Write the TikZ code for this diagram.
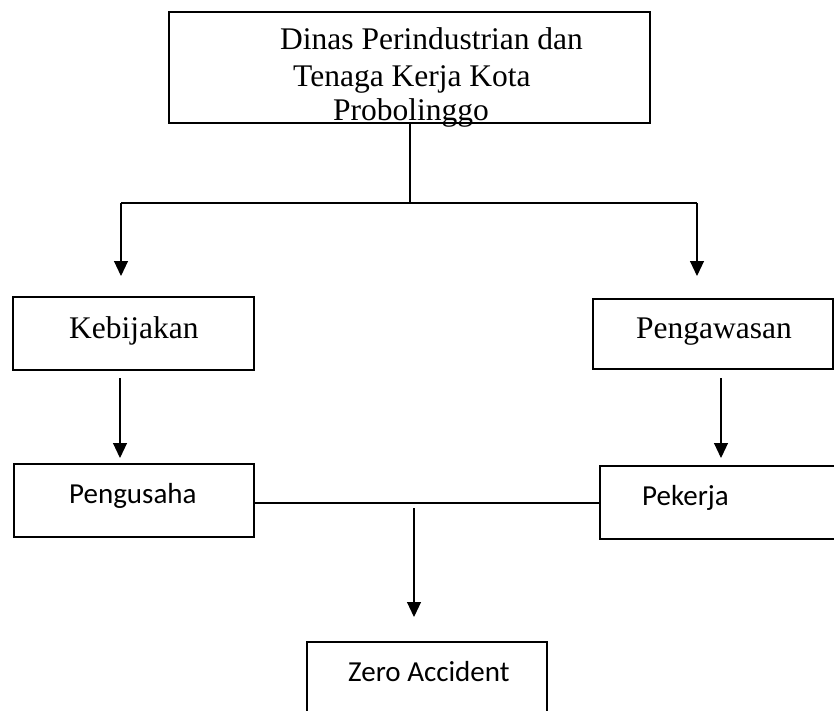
\documentclass[tikz,border=0pt]{standalone}
\usepackage{fontspec}
\setmainfont{Liberation Serif}
\newfontfamily\calib{Carlito}
\usetikzlibrary{arrows.meta}
\begin{document}
\begin{tikzpicture}[x=1pt,y=-1pt,
  box/.style={draw=black,line width=1.6pt,rectangle,inner sep=0pt},
  conn/.style={draw=black,line width=1.1pt},
  arr/.style={conn,-{Triangle[width=14pt,length=15pt]}},
  serif/.style={anchor=base west,inner sep=0pt,font=\fontsize{31.5}{36}\selectfont},
  sans/.style={anchor=base west,inner sep=0pt,font=\calib\fontsize{29}{34}\selectfont}]
\clip (0,0) rectangle (834,711);
\useasboundingbox (0,0) rectangle (834,711);
% boxes
\node[box,minimum width=481pt,minimum height=111pt] (top) at (409.5,67.5) {};
\node[box,minimum width=241pt,minimum height=73pt] (keb) at (133.5,333.5) {};
\node[box,minimum width=240pt,minimum height=70pt] (pgw) at (713,334) {};
\node[box,minimum width=240pt,minimum height=73pt] (pgu) at (134,500.5) {};
\node[box,minimum width=240pt,minimum height=73pt] (pek) at (720,502.5) {};
\node[box,minimum width=240pt,minimum height=80pt] (zero) at (427,682) {};
% texts
\node[serif] (t1) at (280,50) {Dinas Perindustrian dan};
\node[serif] (t2) at (293,87) {Tenaga Kerja Kota};
\node[serif] (t3) at (333,121) {Probolinggo};
\node[serif] (tk) at (69,338) {Kebijakan};
\node[serif] (tp) at (636,338) {Pengawasan};
\node[sans] (tu) at (69,503) {Pengusaha};
\node[sans] (te) at (642,505) {Pekerja};
\node[sans] (tz) at (348,681) {Zero Accident};
% coordinates
\coordinate (j) at (410,203);
\coordinate (jl) at (121,203);
\coordinate (jr) at (697,203);
\coordinate (al) at (121,276);
\coordinate (ar) at (697,276);
\coordinate (k1) at (120,378);
\coordinate (k2) at (120,458);
\coordinate (p1) at (721,378);
\coordinate (p2) at (721,458);
\coordinate (z1) at (414,508);
\coordinate (z2) at (414,617);
% connectors
\draw[conn] (top.south -| j) -- (j);
\draw[conn] (jl) -- (jr);
\draw[arr] (jl) -- (al);
\draw[arr] (jr) -- (ar);
\draw[arr] (k1) -- (k2);
\draw[arr] (p1) -- (p2);
\draw[conn] (pgu.east |- 0,503) -- (pek.west |- 0,503);
\draw[arr] (z1) -- (z2);
\end{tikzpicture}
\end{document}
